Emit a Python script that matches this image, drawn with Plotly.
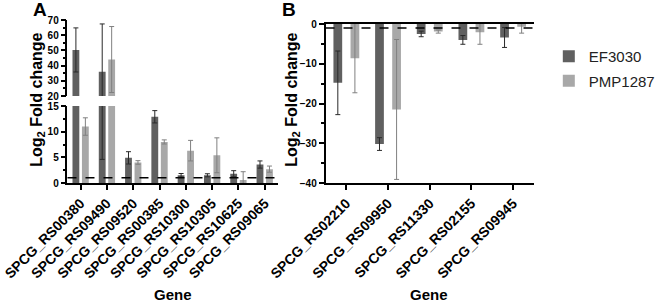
import plotly.graph_objects as go

# ---------------- data ----------------
genes_A = ["SPCG_RS00380", "SPCG_RS09490", "SPCG_RS09520", "SPCG_RS00385",
           "SPCG_RS10300", "SPCG_RS10305", "SPCG_RS10625", "SPCG_RS09065"]
ef_A = [50.3, 36.0, 4.9, 12.9, 1.5, 1.5, 1.8, 3.6]
ef_A_err = [14.5, 31.4, 1.2, 1.2, 0.35, 0.3, 0.6, 0.7]
pmp_A = [11.0, 44.0, 4.0, 8.0, 6.3, 5.4, 0.6, 2.7]
pmp_A_err = [1.7, 21.7, 0.35, 0.4, 2.0, 3.4, 1.6, 0.6]

genes_B = ["SPCG_RS02210", "SPCG_RS09950", "SPCG_RS11330", "SPCG_RS02155", "SPCG_RS09945"]
ef_B = [-14.8, -30.2, -2.5, -4.0, -3.4]
ef_B_err = [8.0, 1.6, 0.7, 1.1, 2.5]
pmp_B = [-8.6, -21.5, -1.9, -2.1, -0.7]
pmp_B_err = [8.7, 17.6, 0.4, 3.0, 1.6]

series_names = ["EF3030", "PMP1287"]
threshold_A = 1
threshold_B = -1

# ---------------- style ----------------
W, H = 660, 306
DARK = "#606060"
LIGHT = "#a8a8a8"
DARK_ERR = "#2a2a2a"
LIGHT_ERR = "#808080"
FONT = "Liberation Sans, Arial, sans-serif"

def px_x(p):
    return p / W

def px_y(p):
    return 1 - p / H

fig = go.Figure()

def add_bar(x, y, err, color, ecolor, name, xa, ya, offset, width, showlegend):
    fig.add_trace(go.Bar(
        x=x, y=y, name=name, legendgroup=name, showlegend=showlegend,
        marker=dict(color=color, line=dict(width=0)),
        error_y=dict(type="data", array=err, symmetric=True, color=ecolor,
                     thickness=1, width=2.5),
        offset=offset, width=width, xaxis=xa, yaxis=ya,
    ))

# Panel A lower + upper (broken axis)
for ya, xa in (("y", "x"), ("y2", "x2")):
    add_bar(genes_A, ef_A, ef_A_err, DARK, DARK_ERR, series_names[0], xa, ya, -0.31, 0.26, False)
    add_bar(genes_A, pmp_A, pmp_A_err, LIGHT, LIGHT_ERR, series_names[1], xa, ya, 0.05, 0.26, False)

# Panel B
add_bar(genes_B, ef_B, ef_B_err, DARK, DARK_ERR, series_names[0], "x3", "y3", -0.31, 0.21, True)
add_bar(genes_B, pmp_B, pmp_B_err, LIGHT, LIGHT_ERR, series_names[1], "x3", "y3", 0.10, 0.21, True)

tickfont = dict(family=FONT, size=10, color="black", weight="bold")
catfont = dict(family=FONT, size=14, color="black", weight="bold")
axline = dict(showline=True, linecolor="black", linewidth=1.5, showgrid=False,
              zeroline=False, ticks="outside", tickcolor="black", tickwidth=1.5,
              ticklen=5)

A_x = [px_x(68), px_x(280)]
B_x = [px_x(328), px_x(538)]

fig.update_layout(
    width=W, height=H,
    margin=dict(l=0, r=0, t=0, b=0),
    paper_bgcolor="white", plot_bgcolor="white",
    barmode="group",
    font=dict(family=FONT, color="black"),
    xaxis=dict(domain=A_x, anchor="y", type="category", range=[-0.5, 7.5],
               tickangle=-45, tickfont=catfont, automargin=False, **axline),
    yaxis=dict(domain=[px_y(183), px_y(106)], anchor="x", range=[0, 15],
               tickvals=[0, 5, 10, 15], tickfont=tickfont, automargin=False,
               minor=dict(dtick=2.5, ticklen=3, tickwidth=1.5, tickcolor="black", ticks="outside"),
               **axline),
    xaxis2=dict(domain=A_x, anchor="y2", matches="x", type="category", range=[-0.5, 7.5],
                showline=False, showticklabels=False, ticks="", showgrid=False, zeroline=False),
    yaxis2=dict(domain=[px_y(96), px_y(20)], anchor="x2", range=[20, 70],
                tickvals=[20, 30, 40, 50, 60, 70], tickfont=tickfont, automargin=False,
                minor=dict(dtick=5, ticklen=3, tickwidth=1.5, tickcolor="black", ticks="outside"),
                **axline),
    xaxis3=dict(domain=B_x, anchor="y3", type="category", range=[-0.5, 4.5],
                tickangle=-45, tickfont=catfont, automargin=False, mirror=True, **axline),
    yaxis3=dict(domain=[px_y(183), px_y(24)], anchor="x3", range=[-40, 0],
                tickvals=[-40, -30, -20, -10, 0], tickfont=tickfont, automargin=False,
                minor=dict(dtick=5, ticklen=3, tickwidth=1.5, tickcolor="black", ticks="outside"),
                **axline),
    legend=dict(x=px_x(553), y=px_y(40), xanchor="left", yanchor="top",
                font=dict(family=FONT, size=15, color="#222"),
                itemwidth=30, tracegroupgap=2, bgcolor="rgba(0,0,0,0)"),
    showlegend=True,
)

# threshold dashed lines
fig.add_shape(type="line", xref="x domain", yref="y", x0=0, x1=1,
              y0=threshold_A, y1=threshold_A, line=dict(color="black", width=1.5, dash="dash"))
fig.add_shape(type="line", xref="x3 domain", yref="y3", x0=0, x1=1,
              y0=threshold_B, y1=threshold_B, line=dict(color="black", width=1.5, dash="dash"))

titlefont = dict(family=FONT, size=16, color="black", weight="bold")
genefont = dict(family=FONT, size=15, color="black", weight="bold")
letterfont = dict(family=FONT, size=19, color="black", weight="bold")
ann = [
    dict(text="A", x=px_x(40), y=px_y(10), yanchor="middle", font=letterfont),
    dict(text="B", x=px_x(291), y=px_y(10), yanchor="middle", font=letterfont),
    dict(text="Log<sub>2</sub> Fold change", x=px_x(38), y=px_y(100), yanchor="middle",
         textangle=-90, font=titlefont),
    dict(text="Log<sub>2</sub> Fold change", x=px_x(295), y=px_y(100), yanchor="middle",
         textangle=-90, font=titlefont),
    dict(text="Gene", x=px_x(174), y=px_y(305), yanchor="bottom", font=genefont),
    dict(text="Gene", x=px_x(432), y=px_y(305), yanchor="bottom", font=genefont),
]
for a in ann:
    fig.add_annotation(xref="paper", yref="paper", showarrow=False,
                       xanchor="center", **a)

fig.write_html("out.html", config={"displayModeBar": False},
               post_script="document.body.style.margin='0px';document.body.style.overflow='hidden';")
